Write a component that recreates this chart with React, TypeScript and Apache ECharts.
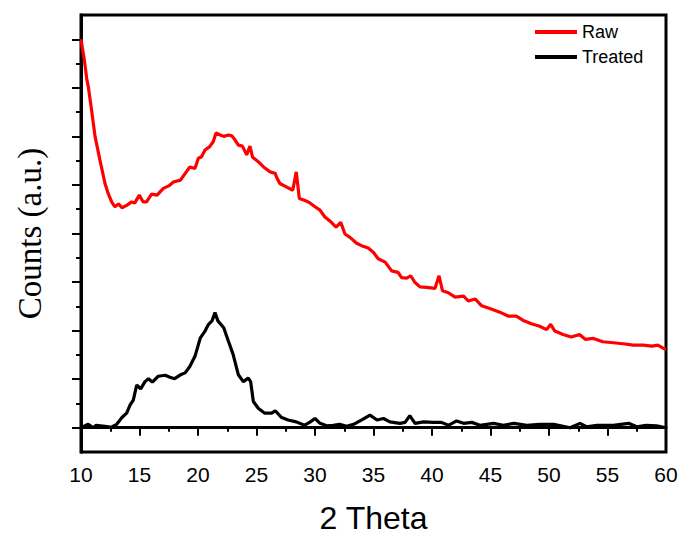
import React, { useEffect, useRef } from "react";
import * as echarts from "echarts";

// 2 Theta (degrees) and counts (a.u., offset units)
const rawTheta = [10.0, 10.3, 10.5, 10.62, 10.9, 11.2, 11.62, 12.05, 12.33, 12.62, 12.9, 13.2, 13.5, 13.9, 14.33, 14.6, 14.98, 15.32, 15.6, 16.03, 16.5, 17.04, 17.5, 17.9, 18.5, 19.0, 19.3, 19.74, 20.03, 20.3, 20.6, 21.0, 21.3, 21.54, 21.9, 22.2, 22.6, 22.9, 23.16, 23.45, 23.8, 24.16, 24.44, 24.67, 25.15, 25.6, 26.15, 26.6, 26.7, 26.99, 27.55, 28.1, 28.4, 28.66, 29.15, 29.57, 30.0, 30.43, 30.85, 31.4, 31.8, 32.2, 32.56, 32.99, 33.56, 33.98, 34.55, 35.0, 35.4, 36.0, 36.55, 37.1, 37.4, 37.84, 38.18, 38.55, 38.97, 39.55, 40.26, 40.6, 40.9, 41.4, 41.97, 42.7, 43.1, 43.7, 44.25, 45.0, 45.8, 46.5, 47.2, 47.8, 48.5, 49.2, 49.8, 50.14, 50.5, 51.2, 51.9, 52.6, 53.1, 53.8, 54.6, 55.5, 56.34, 57.2, 58.05, 58.8, 59.3, 59.9, 60.0];
const rawCounts = [8.0, 7.55, 7.17, 7.03, 6.55, 6.0, 5.51, 5.03, 4.82, 4.65, 4.55, 4.61, 4.53, 4.58, 4.65, 4.63, 4.79, 4.65, 4.65, 4.81, 4.79, 4.93, 4.98, 5.06, 5.1, 5.27, 5.37, 5.34, 5.55, 5.58, 5.72, 5.79, 5.89, 6.07, 6.03, 6.0, 6.03, 6.01, 5.93, 5.82, 5.8, 5.62, 5.8, 5.57, 5.48, 5.37, 5.27, 5.24, 5.17, 5.03, 4.96, 4.89, 5.27, 4.72, 4.68, 4.63, 4.55, 4.48, 4.34, 4.23, 4.13, 4.23, 3.99, 3.92, 3.8, 3.75, 3.7, 3.61, 3.48, 3.41, 3.23, 3.2, 3.09, 3.08, 3.13, 2.99, 2.9, 2.89, 2.87, 3.13, 2.82, 2.78, 2.69, 2.71, 2.61, 2.65, 2.51, 2.45, 2.38, 2.3, 2.3, 2.21, 2.14, 2.09, 2.02, 2.13, 1.99, 1.92, 1.87, 1.92, 1.82, 1.84, 1.77, 1.75, 1.73, 1.7, 1.7, 1.68, 1.7, 1.62, 1.62];

const treatedTheta = [10.0, 10.62, 11.05, 11.3, 12.05, 12.6, 13.05, 13.5, 13.9, 14.2, 14.47, 14.76, 15.1, 15.47, 15.76, 16.1, 16.6, 17.2, 17.6, 18.0, 18.5, 18.9, 19.3, 19.74, 20.2, 20.6, 20.9, 21.2, 21.45, 21.7, 22.2, 22.6, 23.0, 23.45, 23.87, 24.3, 24.5, 24.73, 25.15, 25.7, 26.3, 26.6, 27.15, 27.7, 28.4, 29.1, 29.6, 30.0, 30.43, 31.0, 31.56, 32.1, 32.7, 33.3, 34.0, 34.7, 35.3, 35.85, 36.4, 37.26, 37.7, 38.1, 38.55, 39.26, 40.1, 40.8, 41.4, 42.1, 42.7, 43.4, 44.1, 45.26, 46.1, 47.0, 48.1, 49.2, 50.4, 51.8, 52.65, 53.2, 54.1, 55.5, 56.8, 57.5, 58.3, 59.2, 60.0];
const treatedCounts = [0.0, 0.07, 0.0, 0.05, 0.03, 0.01, 0.07, 0.21, 0.3, 0.47, 0.57, 0.88, 0.8, 0.95, 1.01, 0.94, 1.06, 1.08, 1.04, 1.01, 1.09, 1.13, 1.26, 1.47, 1.85, 1.99, 2.13, 2.2, 2.37, 2.2, 2.06, 1.78, 1.51, 1.09, 0.95, 1.02, 0.95, 0.54, 0.4, 0.3, 0.3, 0.35, 0.21, 0.16, 0.12, 0.05, 0.12, 0.19, 0.09, 0.04, 0.05, 0.07, 0.03, 0.07, 0.16, 0.26, 0.16, 0.19, 0.12, 0.09, 0.11, 0.25, 0.09, 0.12, 0.11, 0.11, 0.05, 0.14, 0.09, 0.11, 0.05, 0.09, 0.05, 0.09, 0.05, 0.07, 0.07, 0.0, 0.09, 0.02, 0.05, 0.05, 0.09, 0.02, 0.05, 0.04, 0.0];

const yTicksMajor = [0, 1, 2, 3, 4, 5, 6, 7, 8];
const yTicksMinor = [0.5, 1.5, 2.5, 3.5, 4.5, 5.5, 6.5, 7.5];

const sans = "'Liberation Sans', Arial, Helvetica, sans-serif";
const serif = "'Liberation Serif', 'Times New Roman', serif";

export default function App() {
  const ref = useRef<HTMLDivElement>(null);
  useEffect(() => {
    if (!ref.current) return;
    const chart = echarts.init(ref.current, undefined, { renderer: "svg" });
    const yBase = {
      type: "value" as const,
      min: -0.5,
      max: 8.5,
      position: "left" as const,
      splitLine: { show: false },
      axisLabel: { show: false },
      axisLine: { show: true, lineStyle: { color: "#000", width: 3 } },
    };
    chart.setOption({
      animation: false,
      backgroundColor: "#fff",
      grid: {
        left: 81,
        right: 16,
        top: 15,
        bottom: 83,
        outerBoundsMode: "none",
        containLabel: false,
        show: true,
        borderColor: "#000",
        borderWidth: 3,
      },
      legend: {
        orient: "vertical",
        left: 530,
        top: 17,
        itemWidth: 42,
        itemHeight: 4,
        itemGap: 5,
        icon: "rect",
        textStyle: { fontFamily: sans, fontSize: 18, color: "#000", lineHeight: 20 },
        data: ["Raw", "Treated"],
      },
      xAxis: {
        type: "value",
        min: 10,
        max: 60,
        interval: 5,
        name: "2 Theta",
        nameLocation: "middle",
        nameGap: 50,
        nameTextStyle: { fontFamily: sans, fontSize: 32, color: "#000" },
        splitLine: { show: false },
        axisLine: { show: true, lineStyle: { color: "#000", width: 3 } },
        axisTick: { show: true, inside: false, length: 8, lineStyle: { color: "#000", width: 2 } },
        minorTick: { show: true, splitNumber: 2, length: 4, lineStyle: { color: "#000", width: 2 } },
        minorSplitLine: { show: false },
        axisLabel: { fontFamily: sans, fontSize: 21, color: "#000", margin: 12 },
      },
      yAxis: [
        {
          ...yBase,
          name: "Counts (a.u.)",
          nameLocation: "middle",
          nameGap: 35,
          nameTextStyle: { fontFamily: serif, fontSize: 33, color: "#000" },
          axisTick: { show: true, inside: false, length: 9, lineStyle: { color: "#000", width: 2 }, customValues: yTicksMajor },
        },
        {
          ...yBase,
          axisTick: { show: true, inside: false, length: 5, lineStyle: { color: "#000", width: 2 }, customValues: yTicksMinor },
        },
      ],
      series: [
        {
          name: "Raw",
          type: "line",
          yAxisIndex: 0,
          showSymbol: false,
          symbol: "none",
          color: "#ff0000",
          lineStyle: { color: "#ff0000", width: 3.2 },
          data: rawTheta.map((t, i) => [t, rawCounts[i]]),
        },
        {
          name: "Treated",
          type: "line",
          yAxisIndex: 0,
          showSymbol: false,
          symbol: "none",
          color: "#000000",
          lineStyle: { color: "#000000", width: 3.2 },
          data: treatedTheta.map((t, i) => [t, treatedCounts[i]]),
        },
      ],
    });
    return () => chart.dispose();
  }, []);
  return (
    <div
      ref={ref}
      style={{ position: "absolute", left: 0, top: 0, width: 682, height: 535, background: "#fff" }}
    />
  );
}
